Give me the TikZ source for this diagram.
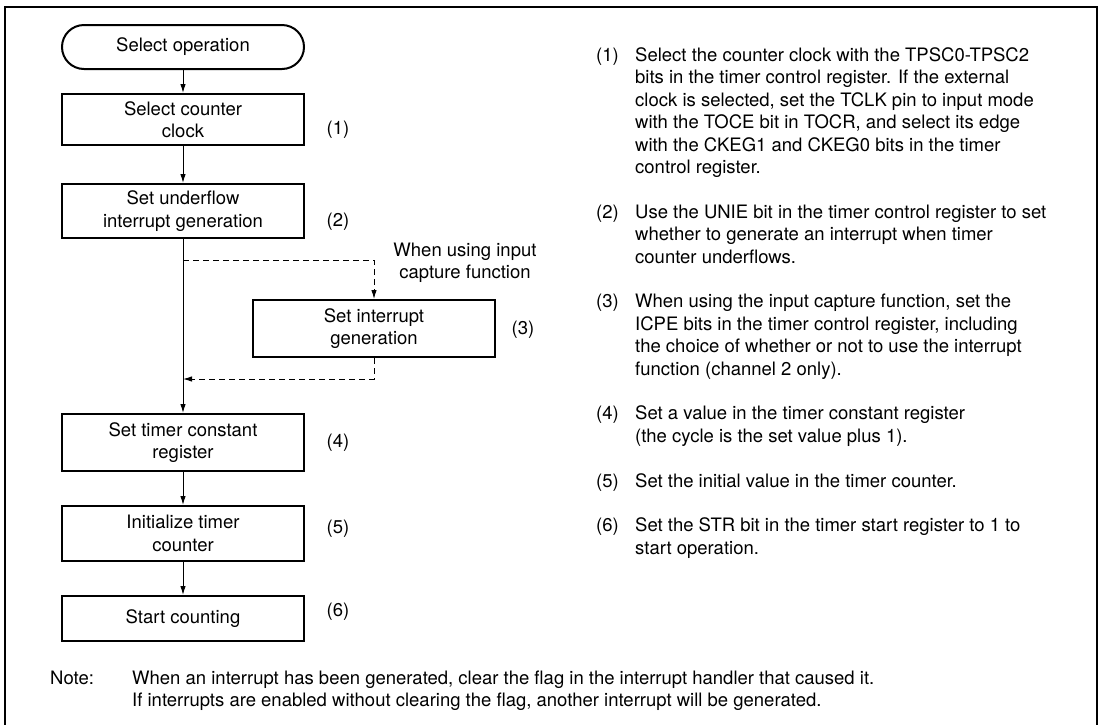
\documentclass[tikz,border=0pt]{standalone}
\usepackage{fontspec}
\setmainfont{TeX Gyre Heros}
\usetikzlibrary{arrows.meta}
\newcommand\mylines[1]{\begin{tabular}[t]{@{}l@{}}#1\end{tabular}}
\begin{document}
\begin{tikzpicture}[x=1pt,y=-1pt,
  every node/.style={font=\fontsize{18.5}{22.4}\selectfont, inner sep=0pt},
  stepbox/.style={draw, line width=2pt, minimum width=242pt, align=center},
  termbox/.style={draw, line width=2pt, minimum width=242pt, minimum height=44pt, rounded corners=22pt},
  flow/.style={line width=1pt, -{Latex[length=9pt,width=5.5pt]}},
  dflow/.style={flow, dash pattern=on 6pt off 4pt},
  numlab/.style={anchor=center},
  txt/.style={anchor=base west}]
\useasboundingbox (0,0) rectangle (1101,724);
\draw[line width=2pt] (5,740) -- (5,7) -- (1097,7) -- (1097,740);

% flowchart
\node[termbox] (T) at (183,47) {Select operation};
\node[stepbox, minimum height=51pt] (B1) at (183,119.5) {Select counter\\clock};
\node[stepbox, minimum height=54pt] (B2) at (183,211) {Set underflow\\interrupt generation};
\node[stepbox, minimum height=57pt] (B3) at (374,328.5) {Set interrupt\\generation};
\node[stepbox, minimum height=57pt] (B4) at (183,442.5) {Set timer constant\\register};
\node[stepbox, minimum height=55pt] (B5) at (183,533.5) {Initialize timer\\counter};
\node[stepbox, minimum height=45pt] (B6) at (183,618.5) {Start counting};

\node[numlab] (L1) at (338,130) {(1)};
\node[numlab] (L2) at (338,222) {(2)};
\node[numlab] (L3) at (523,330) {(3)};
\node[numlab] (L4) at (338,443) {(4)};
\node[numlab] (L5) at (338,529) {(5)};
\node[numlab] (L6) at (338,612) {(6)};

\node[align=center] (cap) at (465,262.5) {When using input\\capture function};

\draw[flow] (T) -- (B1);
\draw[flow] (B1) -- (B2);
\draw[flow] (B2) -- (B4);
\draw[flow] (B4) -- (B5);
\draw[flow] (B5) -- (B6);

\coordinate (d1) at (183,260);
\coordinate (d2) at (183,379);
\draw[dflow] (d1) -| (B3.north);
\draw[dflow] (B3.south) |- (d2);

% explanations
\node[txt] (n1) at (596,61.5) {(1)};
\node[txt] (t1) at (635,61.5) {\mylines{Select the counter clock with the TPSC0-TPSC2\\bits in the timer control register. If the external\\clock is selected, set the TCLK pin to input mode\\with the TOCE bit in TOCR, and select its edge\\with the CKEG1 and CKEG0 bits in the timer\\control register.}};
\node[txt] (n2) at (596,218.3) {(2)};
\node[txt] (t2) at (635,218.3) {\mylines{Use the UNIE bit in the timer control register to set\\whether to generate an interrupt when timer\\counter underflows.}};
\node[txt] (n3) at (596,307.9) {(3)};
\node[txt] (t3) at (635,307.9) {\mylines{When using the input capture function, set the\\ICPE bits in the timer control register, including\\the choice of whether or not to use the interrupt\\function (channel 2 only).}};
\node[txt] (n4) at (596,419.9) {(4)};
\node[txt] (t4) at (635,419.9) {\mylines{Set a value in the timer constant register\\(the cycle is the set value plus 1).}};
\node[txt] (n5) at (596,487.1) {(5)};
\node[txt] (t5) at (635,487.1) {\mylines{Set the initial value in the timer counter.}};
\node[txt] (n6) at (596,531.9) {(6)};
\node[txt] (t6) at (635,531.9) {\mylines{Set the STR bit in the timer start register to 1 to\\start operation.}};

% note
\node[txt] (nl) at (50,684.5) {Note:};
\node[txt] (nt) at (132,684.5) {\mylines{When an interrupt has been generated, clear the flag in the interrupt handler that caused it.\\If interrupts are enabled without clearing the flag, another interrupt will be generated.}};
\end{tikzpicture}
\end{document}
